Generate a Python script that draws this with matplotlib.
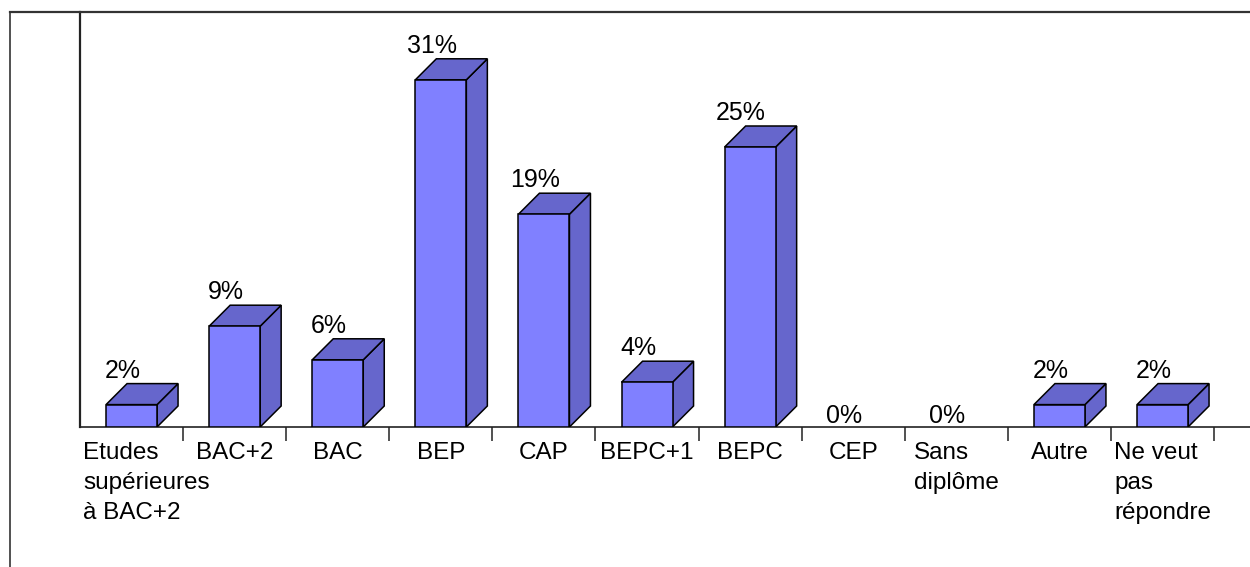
import matplotlib
matplotlib.use("Agg")
import matplotlib.pyplot as plt
from matplotlib.patches import Polygon
from matplotlib.lines import Line2D

plt.rcParams['font.family'] = ['Liberation Sans', 'DejaVu Sans']

categories = ["Etudes\nsupérieures\nà BAC+2", "BAC+2", "BAC", "BEP", "CAP",
              "BEPC+1", "BEPC", "CEP", "Sans\ndiplôme", "Autre",
              "Ne veut\npas\nrépondre"]
values = [2, 9, 6, 31, 19, 4, 25, 0, 0, 2, 2]

W, H = 1250, 567
fig = plt.figure(figsize=(W / 100, H / 100), dpi=100)

# plot area in pixels
left_px, top_px, base_px, right_px = 80, 12, 427, 1250
slot_px = 103.1
px_per_unit = 11.2

ax = fig.add_axes([left_px / W, (H - base_px) / H,
                   (right_px - left_px) / W, (base_px - top_px) / H])
ax.set_xlim(-0.5, -0.5 + (right_px - left_px) / slot_px)
ax.set_ylim(0, (base_px - top_px) / px_per_unit)

front_col = '#8080FF'
side_col = '#6666CC'
half_w = 25.5 / slot_px
dx = 21 / slot_px
dy = 21 / px_per_unit

for i, v in enumerate(values):
    if v > 0:
        x0, x1 = i - half_w, i + half_w
        front = Polygon([(x0, 0), (x1, 0), (x1, v), (x0, v)], closed=True,
                        facecolor=front_col, edgecolor='black', lw=1.1, zorder=3)
        top = Polygon([(x0, v), (x1, v), (x1 + dx, v + dy), (x0 + dx, v + dy)],
                      closed=True, facecolor=side_col, edgecolor='black',
                      lw=1.1, zorder=3)
        side = Polygon([(x1, 0), (x1 + dx, dy), (x1 + dx, v + dy), (x1, v)],
                       closed=True, facecolor=side_col, edgecolor='black',
                       lw=1.1, zorder=3)
        for p in (side, top, front):
            ax.add_patch(p)
    ax.annotate(f"{v}%", (i, v), xytext=(-9, 27 if v > 0 else 4),
                textcoords='offset pixels', ha='center', va='baseline',
                fontsize=18, color='black', zorder=4)

for s in ('top', 'right'):
    ax.spines[s].set_visible(False)
ax.spines['left'].set_color('#222222')
ax.spines['left'].set_linewidth(1.6)
ax.spines['bottom'].set_color('#222222')
ax.spines['bottom'].set_linewidth(1.2)
ax.set_yticks([])
ax.set_xticks([i + 0.5 for i in range(len(categories))])
ax.set_xticklabels([])
ax.tick_params(axis='x', direction='out', length=10, width=1.1, color='#222222')

# category labels: each wrapped line as its own text, block centred under
# the category and lines left-aligned within the block
first_baseline = 32   # pixels below the axis line
line_pitch = 30
fig.canvas.draw()
renderer = fig.canvas.get_renderer()
for i, c in enumerate(categories):
    lines = c.split('\n')
    objs = []
    for k, line in enumerate(lines):
        t = ax.annotate(line, (i, 0),
                        xytext=(0, -(first_baseline + k * line_pitch)),
                        textcoords='offset pixels', ha='left', va='baseline',
                        fontsize=17.5, color='black', annotation_clip=False)
        objs.append(t)
    widths = [t.get_window_extent(renderer).width for t in objs]
    block_w = max(widths)
    cx = ax.transData.transform((i, 0))[0]
    slot_left = ax.transData.transform((i - 0.5, 0))[0]
    bx = max(cx - block_w / 2, slot_left + 3)
    for k, t in enumerate(objs):
        shift = block_w / 2 if len(lines) == 1 else cx - bx
        off = -(widths[k] / 2) if len(lines) == 1 else -shift
        t.set_position((off, -(first_baseline + k * line_pitch)))

# outer frame lines
fig.add_artist(Line2D([10 / W, 1.0], [(H - 12) / H] * 2, color='#333333', lw=1.6))
fig.add_artist(Line2D([10 / W] * 2, [0, (H - 12) / H], color='#333333', lw=1.2))

fig.savefig('out.png', dpi=100, facecolor='white')
